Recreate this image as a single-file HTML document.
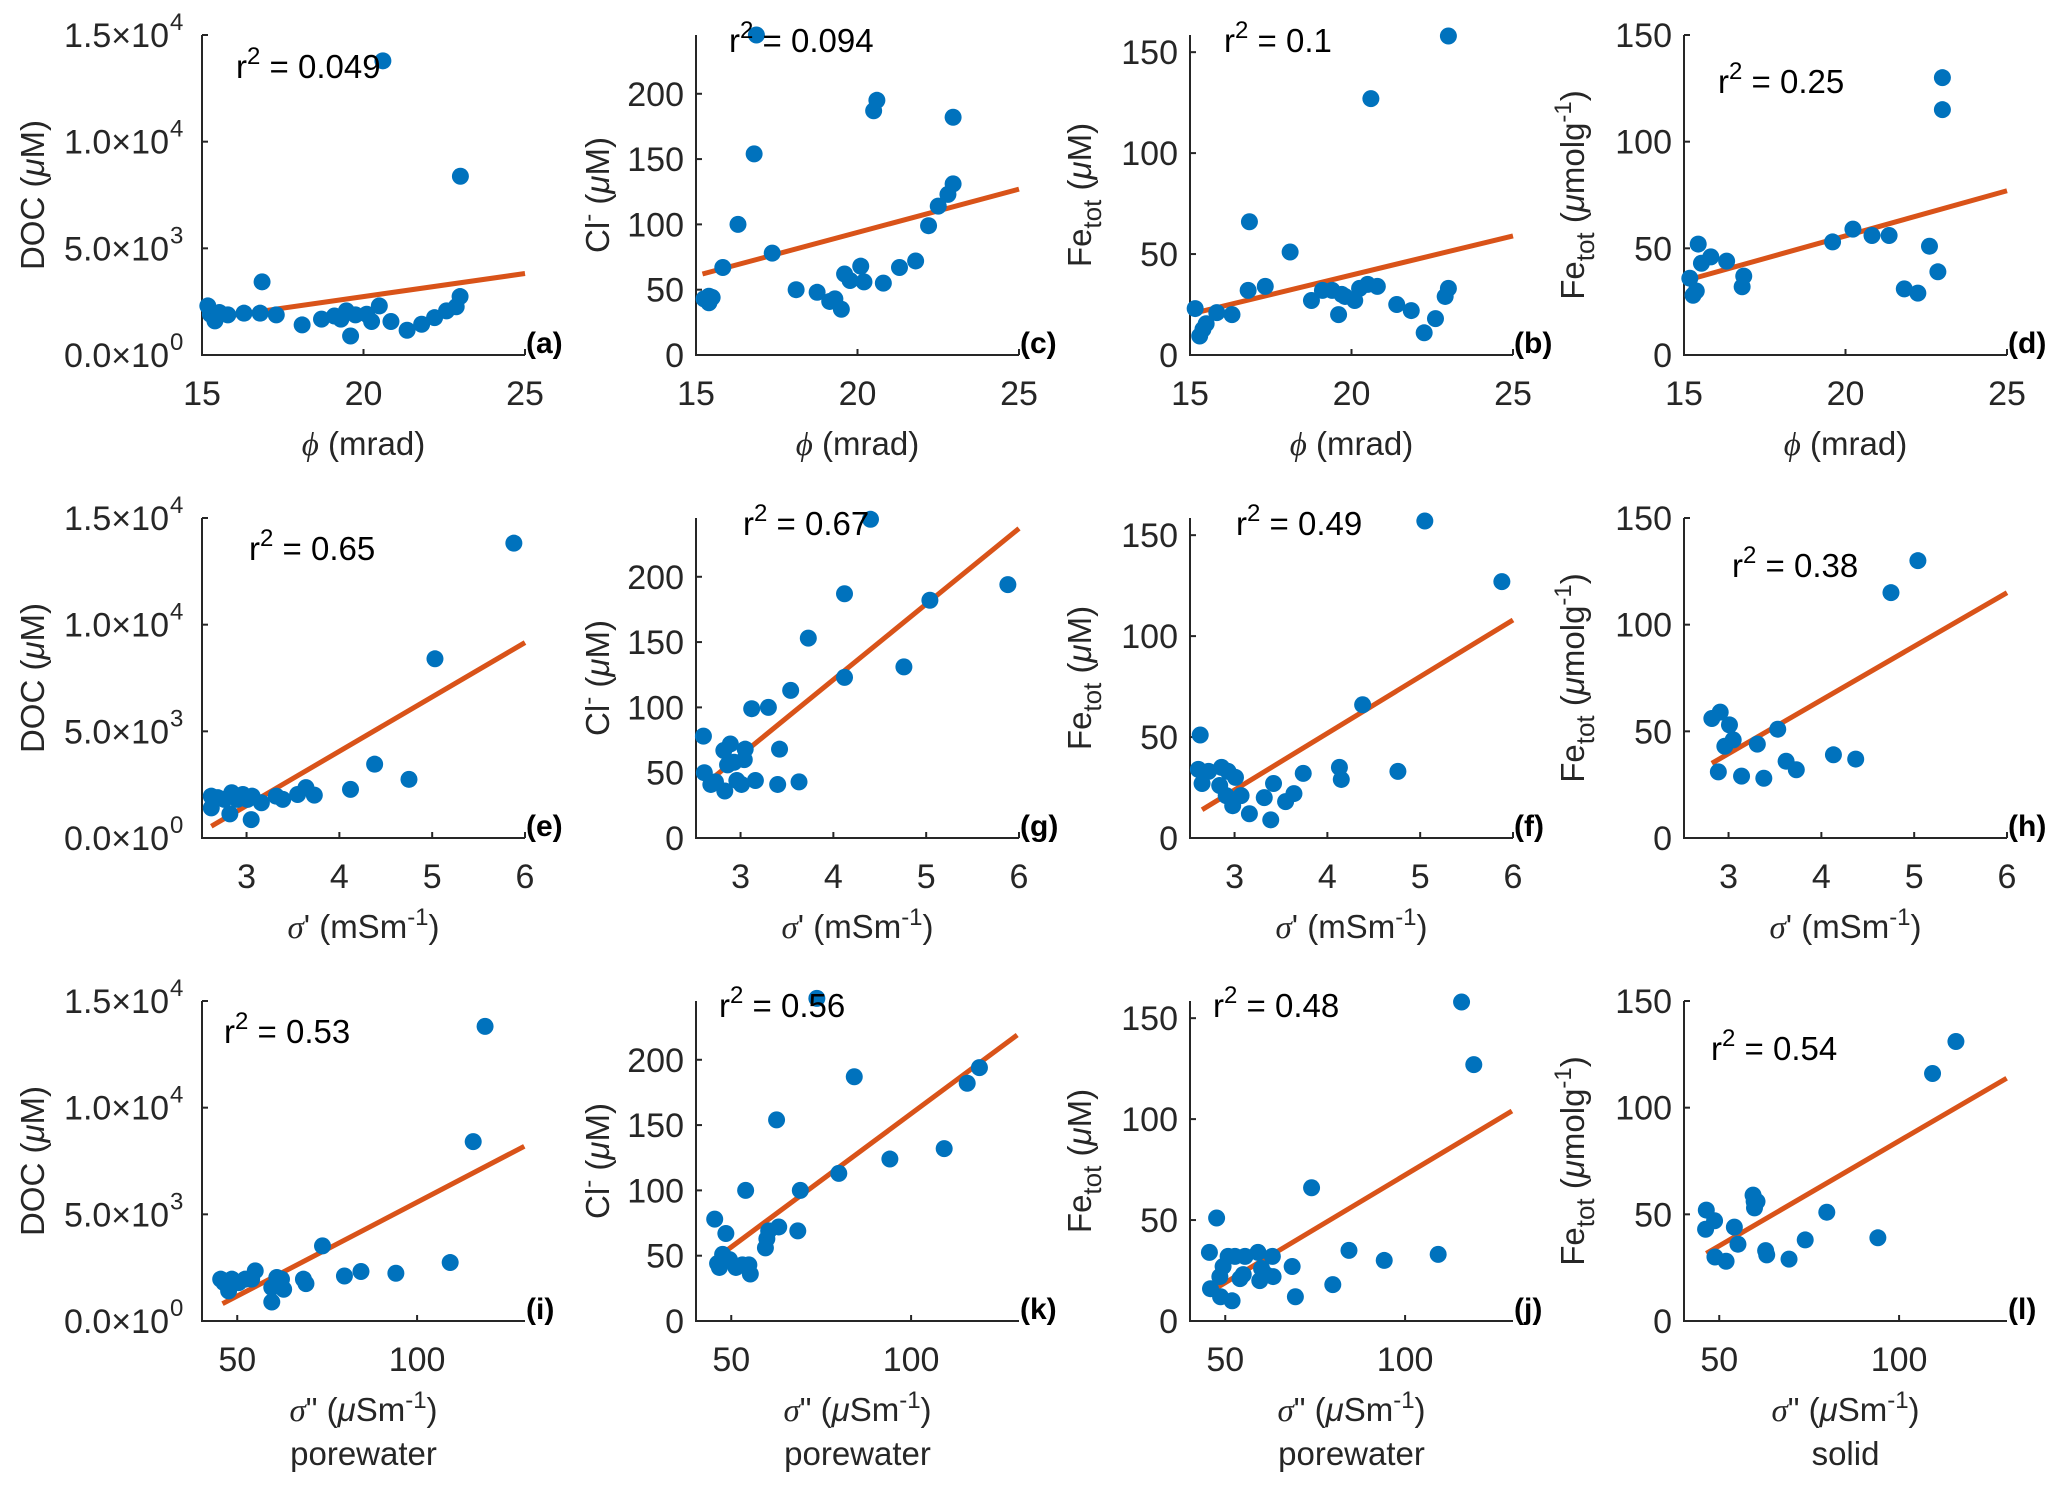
<!DOCTYPE html>
<html><head><meta charset="utf-8">
<style>
html,body{margin:0;padding:0;background:#fff;}
svg{display:block;font-family:"Liberation Sans",Arial,sans-serif;}
</style></head>
<body>
<svg id="fig" width="2067" height="1491" viewBox="0 0 2067 1491" xmlns="http://www.w3.org/2000/svg"></svg>
<script>
// ---- data (x values, y values, fit endpoints) ----
const aX=[15.18,15.26,15.4,15.54,15.8,16.3,16.8,16.86,17.3,18.1,18.7,19.1,19.3,19.47,19.6,19.75,20.1,20.25,20.49,20.6,20.85,21.35,21.8,22.2,22.57,22.87,22.99,23.0];
const aY=[2300,1910,1600,1990,1880,1960,1960,3430,1880,1410,1680,1830,1680,2070,890,1880,1910,1570,2300,13790,1570,1160,1440,1750,2070,2260,2740,8380];
const aFit=[15.2,1700,25,3820];
const cX=[15.25,15.4,15.5,15.4,15.83,16.3,16.8,16.87,17.36,18.1,18.75,19.14,19.3,19.5,19.6,19.77,20.1,20.2,20.5,20.6,20.8,21.3,21.8,22.2,22.5,22.8,22.96,22.96];
const cY=[43,45,44,40,67,100,154,245,78,50,48,41,43,35,62,57,68,56,187,195,55,67,72,99,114,123,131,182];
const cFit=[15.2,62,25,127];
const bX=[15.16,15.3,15.4,15.5,15.83,16.3,16.8,16.84,17.33,18.1,18.76,19.1,19.4,19.6,19.7,19.8,20.1,20.25,20.5,20.6,20.8,21.4,21.85,22.25,22.6,22.9,23.0,23.0];
const bY=[23,9.4,12.7,15.5,21,20,32,66,34,51,27,32,32,20,30,29,27,33,35,127,34,25,22,11,18,29,33,158];
const bFit=[15.2,21,25,59];
const dX=[15.18,15.28,15.38,15.44,15.54,15.83,16.32,16.8,16.85,19.6,20.23,20.82,21.35,21.82,22.24,22.6,22.86,23.0,23.0];
const dY=[36,28,30,52,43,46,44,32,37,53,59,56,56,31,29,51,39,115,130];
const dFit=[15.2,35.5,25,77];
const eX=[2.62,2.62,2.69,2.76,2.84,2.82,2.9,2.96,3.01,3.05,3.06,3.16,3.32,3.39,3.55,3.64,3.73,4.12,4.38,4.75,5.03,5.88];
const eY=[1960,1410,1890,1810,2120,1130,1810,2040,1810,860,1960,1650,1960,1810,2040,2360,2010,2280,3460,2750,8400,13820];
const eFit=[2.62,550,6,9160];
const gX=[2.6,2.61,2.68,2.73,2.82,2.89,2.83,2.86,2.93,3.04,3.05,2.96,3.01,3.12,3.16,3.3,3.4,3.42,3.54,3.63,3.73,4.12,4.12,4.4,4.76,5.04,5.88];
const gY=[78,50,41,43,67,72,36,56,58,60,68,44,41,99,44,100,41,68,113,43,153,123,187,244,131,182,194];
const gFit=[2.65,43,6,237];
const fX=[2.63,2.61,2.65,2.72,2.84,2.86,2.93,2.91,3.01,2.98,3.07,3.16,3.32,3.39,3.42,3.55,3.64,3.74,4.13,4.15,4.38,4.76,5.05,5.88];
const fY=[51,34,27,33,26,35,33,21,30,16,21,12,20,9,27,18,22,32,35,29,66,33,157,127];
const fFit=[2.65,14,6,108];
const hX=[2.82,2.91,3.01,3.05,2.96,2.89,3.14,3.31,3.38,3.53,3.62,3.73,4.13,4.37,4.75,5.04];
const hY=[56,59,53,46,43,31,29,44,28,51,36,32,39,37,115,130];
const hFit=[2.82,35,6,115];
const iX=[45.4,46.3,47.6,48.5,50.4,52.2,55,54,59.6,59.6,61,62.3,62.9,68.4,69.1,73.7,79.8,84.4,94.1,109.2,115.6,118.9];
const iY=[1960,1800,1410,1960,1800,1960,2350,1960,1570,890,2040,1960,1490,1960,1750,3520,2110,2320,2240,2740,8410,13810];
const iFit=[45.9,810,129.8,8190];
const kX=[45.4,46.2,46.7,47.6,48.5,49.5,51.3,53.1,54,54.9,55.3,59.5,59.9,60.4,62.6,63.2,68.5,69.2,73.8,79.9,84.2,94.1,109.2,115.6,119];
const kY=[78,44,41,51,67,47,41,43,100,43,36,56,63,69,154,72,69,100,247,113,187,124,132,182,194];
const kFit=[45.8,48,129.5,219];
const jX=[45.6,45.9,47.6,48.5,48.7,49.4,50.8,51.9,52.7,54.1,55,55.5,59.1,59.6,60.1,61.3,63.1,63.3,68.6,69.5,74,79.9,84.4,94.2,109.2,115.7,119.1];
const jY=[34,16,51,22,12,27,32,10,32,21,23,32,34,20,26,23,32,22,27,12,66,18,35,30,33,158,127];
const jFit=[45.8,14.5,129.7,104];
const lX=[46.4,46.2,48.7,48.8,51.9,54.2,55.2,59.4,59.7,60.5,59.8,62.9,63.2,69.4,73.9,79.9,94.1,109.3,115.8];
const lY=[52,43,47,30,28,44,36,59,56,56,53,33,31,29,38,51,39,116,131];
const lFit=[46.4,31.7,129.9,113.8];
const r2Labels=["0.049","0.094","0.1","0.25","0.65","0.67","0.49","0.38","0.53","0.56","0.48","0.54"];
const xTicksPhi=[15,20,25];
const xTicksSig1=[3,4,5,6];
const xTicksSig2=[50,100];
const yTicksDOC=[0,5000,10000,15000];
const yTicksCl=[0,50,100,150,200];
const yTicksFe=[0,50,100,150];

const NS="http://www.w3.org/2000/svg";
const svg=document.getElementById('fig');
function el(tag,attrs,parent){const e=document.createElementNS(NS,tag);for(const k in attrs)e.setAttribute(k,attrs[k]);(parent||svg).appendChild(e);return e;}
const lefts=[202,696,1190,1684], tops=[35,518,1001], W=323, H=320;
const TXT="#262626";
const TF=34, LF=33;

const panels=[
 {id:'a',r:0,c:0,x:aX,y:aY,fit:aFit,xr:[15,25],yr:[0,15000],xt:xTicksPhi,yt:yTicksDOC,yk:'doc',xk:'phi',r2:[236,78]},
 {id:'c',r:0,c:1,x:cX,y:cY,fit:cFit,xr:[15,25],yr:[0,245],xt:xTicksPhi,yt:yTicksCl,yk:'cl',xk:'phi',r2:[729,52]},
 {id:'b',r:0,c:2,x:bX,y:bY,fit:bFit,xr:[15,25],yr:[0,158.5],xt:xTicksPhi,yt:yTicksFe,yk:'fe',xk:'phi',r2:[1224,52]},
 {id:'d',r:0,c:3,x:dX,y:dY,fit:dFit,xr:[15,25],yr:[0,150],xt:xTicksPhi,yt:yTicksFe,yk:'fes',xk:'phi',r2:[1718,93]},
 {id:'e',r:1,c:0,x:eX,y:eY,fit:eFit,xr:[2.52,6],yr:[0,15000],xt:xTicksSig1,yt:yTicksDOC,yk:'doc',xk:'s1',r2:[249,560]},
 {id:'g',r:1,c:1,x:gX,y:gY,fit:gFit,xr:[2.52,6],yr:[0,245],xt:xTicksSig1,yt:yTicksCl,yk:'cl',xk:'s1',r2:[743,535]},
 {id:'f',r:1,c:2,x:fX,y:fY,fit:fFit,xr:[2.52,6],yr:[0,158.5],xt:xTicksSig1,yt:yTicksFe,yk:'fe',xk:'s1',r2:[1236,535]},
 {id:'h',r:1,c:3,x:hX,y:hY,fit:hFit,xr:[2.52,6],yr:[0,150],xt:xTicksSig1,yt:yTicksFe,yk:'fes',xk:'s1',r2:[1732,577]},
 {id:'i',r:2,c:0,x:iX,y:iY,fit:iFit,xr:[40.2,130],yr:[0,15000],xt:xTicksSig2,yt:yTicksDOC,yk:'doc',xk:'s2',sub:'porewater',r2:[224,1043]},
 {id:'k',r:2,c:1,x:kX,y:kY,fit:kFit,xr:[40.2,130],yr:[0,245],xt:xTicksSig2,yt:yTicksCl,yk:'cl',xk:'s2',sub:'porewater',r2:[719,1017]},
 {id:'j',r:2,c:2,x:jX,y:jY,fit:jFit,xr:[40.2,130],yr:[0,158.5],xt:xTicksSig2,yt:yTicksFe,yk:'fe',xk:'s2',sub:'porewater',r2:[1213,1017]},
 {id:'l',r:2,c:3,x:lX,y:lY,fit:lFit,xr:[40.2,130],yr:[0,150],xt:xTicksSig2,yt:yTicksFe,yk:'fes',xk:'s2',sub:'solid',r2:[1711,1060]}
];

panels.forEach((p,pi)=>{
  const L=lefts[p.c], T=tops[p.r], B=T+H, R=L+W;
  const sx=v=>L+(v-p.xr[0])/(p.xr[1]-p.xr[0])*W;
  const sy=v=>B-(v-p.yr[0])/(p.yr[1]-p.yr[0])*H;
  const g=el('g',{});
  
  
  const ax=el('path',{d:`M${L},${T} L${L},${B} L${R},${B}`,fill:'none',stroke:TXT,'stroke-width':2},g);
  
  
  p.xt.forEach(t=>{
    const x=sx(t);
    el('line',{x1:x,y1:B,x2:x,y2:B-6,stroke:TXT,'stroke-width':2},g);
    const tx=el('text',{x:x,y:B+50,'font-size':TF,fill:TXT,'text-anchor':'middle'},g);
    tx.textContent=t;
    
    
  });
  p.yt.forEach(t=>{
    const y=sy(t);
    el('line',{x1:L,y1:y,x2:L+6,y2:y,stroke:TXT,'stroke-width':2},g);
    const tx=el('text',{x:L-12,y:y+12,'font-size':TF,fill:TXT,'text-anchor':'end'},g);
    
    
    if(p.yk==='doc'){
      const e=t===0?0:Math.floor(Math.log10(t)); const m=(t/Math.pow(10,e)).toFixed(1);
      tx.setAttribute('x',L-33);
      tx.textContent=m+'\u00d710';
      const sup=el('text',{x:L-32,y:y-5,'font-size':24,fill:TXT,'text-anchor':'start'},g);
      sup.textContent=e;
    } else tx.textContent=t;
  });
  const ycx=L-({doc:170,cl:99,fe:111,fes:112})[p.yk], ycy=T+H/2;
  const yl=el('text',{x:0,y:0,'font-size':LF,fill:TXT,'text-anchor':'middle',transform:`translate(${ycx+12},${ycy}) rotate(-90)`},g);
  
  
  if(p.yk==='doc'){yl.innerHTML='DOC (<tspan font-style="italic">\u03bc</tspan>M)';}
  else if(p.yk==='cl'){yl.innerHTML='Cl<tspan dy="-13" font-size="24">-</tspan><tspan dy="13"> (</tspan><tspan font-style="italic">\u03bc</tspan>M)';}
  else if(p.yk==='fe'){yl.innerHTML='Fe<tspan dy="10" font-size="26">tot</tspan><tspan dy="-10"> (</tspan><tspan font-style="italic">\u03bc</tspan>M)';}
  else {yl.innerHTML='Fe<tspan dy="10" font-size="26">tot</tspan><tspan dy="-10"> (</tspan><tspan font-style="italic">\u03bc</tspan>molg<tspan dy="-13" font-size="24">-1</tspan><tspan dy="13">)</tspan>';}
  const xl=el('text',{x:L+W/2,y:B+100,'font-size':LF,fill:TXT,'text-anchor':'middle'},g);
  
  
  if(p.xk==='phi') xl.innerHTML='<tspan font-style="italic" font-family="Liberation Serif">\u03d5</tspan> (mrad)';
  else if(p.xk==='s1') xl.innerHTML='<tspan font-style="italic" font-family="Liberation Serif">\u03c3</tspan>\' (mSm<tspan dy="-13" font-size="24">-1</tspan><tspan dy="13">)</tspan>';
  else xl.innerHTML='<tspan font-style="italic" font-family="Liberation Serif">\u03c3</tspan>" (<tspan font-style="italic">\u03bc</tspan>Sm<tspan dy="-13" font-size="24">-1</tspan><tspan dy="13">)</tspan>';
  if(p.sub){
    const s=el('text',{x:L+W/2,y:B+144,'font-size':LF,fill:TXT,'text-anchor':'middle'},g);
    s.textContent=p.sub;
    
    
  }
  const fl=el('line',{x1:sx(p.fit[0]),y1:sy(p.fit[1]),x2:sx(p.fit[2]),y2:sy(p.fit[3]),stroke:'#D95319','stroke-width':5},g);
  
  
  p.x.forEach((xv,k)=>{
    const c=el('circle',{cx:sx(xv),cy:sy(p.y[k]),r:8.5,fill:'#0072BD'},g);
    
    
  });
  const rt=el('text',{x:p.r2[0],y:p.r2[1],'font-size':LF,fill:'#000'},g);
  rt.innerHTML='r<tspan dy="-14" font-size="24">2</tspan><tspan dy="14"> = '+r2Labels[pi]+'</tspan>';
  
  
  const pl=el('text',{x:R+1,y:B-2,'font-size':30,'font-weight':'bold',fill:'#000'},g);
  pl.textContent='('+p.id+')';
  
  
});
</script>
</body></html>
